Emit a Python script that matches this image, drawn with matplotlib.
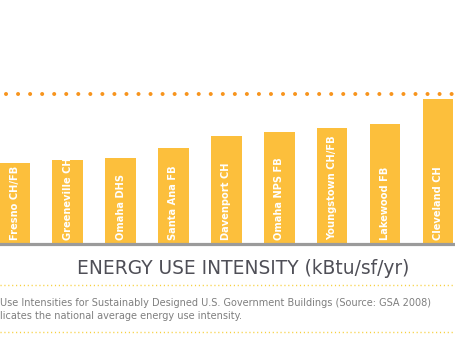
import matplotlib.pyplot as plt
from matplotlib.lines import Line2D

# building energy use intensities (kBtu/sf/yr) and national average
buildings = ["Fresno CH/FB", "Greeneville CH", "Omaha DHS", "Santa Ana FB",
             "Davenport CH", "Omaha NPS FB", "Youngstown CH/FB", "Lakewood FB",
             "Cleveland CH"]
eui = [54.3, 56.1, 57.2, 63.9, 72.1, 74.5, 77.4, 80.2, 96.5]
national_avg = 100

caption = ["Use Intensities for Sustainably Designed U.S. Government Buildings (Source: GSA 2008)",
           "licates the national average energy use intensity."]

bar_color = "#fcbf3c"
font = "DejaVu Sans"

fig = plt.figure(figsize=(4.55, 3.42), dpi=100)
ax = fig.add_axes([0, 1 - 244.3 / 342, 1, 164.3 / 342])

x = range(len(buildings))
ax.bar(x, eui, width=0.58, color=bar_color, zorder=2)
ax.set_xlim(-0.278, -0.278 + 455 / 52.9)
ax.set_ylim(0, 164.3 / 1.503)

# bar names written inside the bars
for i, name in enumerate(buildings):
    ax.text(i, 3.0, name, rotation=90, ha="center", va="bottom", color="white",
            fontsize=7.1, fontweight="bold", family=font, zorder=3)

# national average as a row of orange dots
ax.axhline(national_avg, color="#f7941d", linewidth=2.9,
           linestyle=(1.5, (0.01, 2.98)), dash_capstyle="round", clip_on=False)

# grey baseline
ax.axhline(0, color="#9b9b9b", linewidth=2.3, clip_on=False, zorder=4)
ax.axis("off")

fig.text(243.5 / 455, 1 - 269 / 342, "ENERGY USE INTENSITY (kBtu/sf/yr)",
         ha="center", va="center", fontsize=13.4, color="#4f4f57", family=font)

# yellow dotted rules around the caption
for yp in (285, 331.7):
    fig.add_artist(Line2D([0, 1], [1 - yp / 342] * 2, color="#f7cf3a",
                          linewidth=1.0, linestyle=(0, (0.8, 2.0)),
                          transform=fig.transFigure))

for j, line in enumerate(caption):
    fig.text(0, 1 - (303 + j * 13) / 342, line, ha="left", va="center",
             fontsize=7.05, color="#7f7f7f", family=font)

fig.savefig("out.png", dpi=100)
